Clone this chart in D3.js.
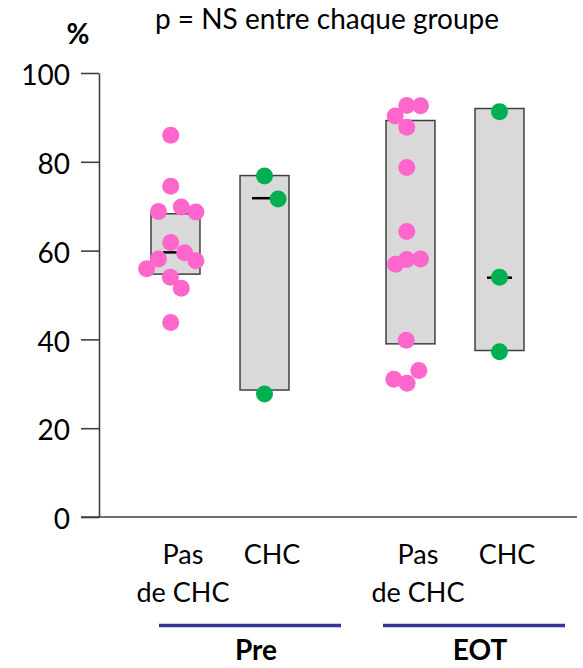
<!DOCTYPE html>
<head>
  <meta charset="utf-8">
  <style>
    body { margin: 0; background: #fff; }
    svg text { font-family: Lato, "Noto Sans", sans-serif; fill: #000; }
  </style>
</head>
<body>
<script src="https://cdnjs.cloudflare.com/ajax/libs/d3/7.8.5/d3.min.js"></script>
<script>

// time points and the two groups inside each
var periods = ["Pre", "EOT"];
var groups = ["Pas de CHC", "CHC"];

// box (first quartile / median / third quartile), period x group
var boxLow    = [[54.7, 28.6], [39.0, 37.5]];
var boxMedian = [[59.6, 71.8], [58.1, 53.9]];
var boxHigh   = [[68.3, 76.9], [89.3, 92.0]];

// individual patients, % value and horizontal spread (in dot widths)
var prePasValues = [86.0, 74.5, 68.8, 69.8, 68.7, 61.8, 58.1, 59.5, 57.7, 55.9, 54.0, 51.5, 43.8];
var prePasSpread = [-0.28, -0.28, -1.0, 0.34, 1.2, -0.28, -1.0, 0.54, 1.2, -1.7, -0.3, 0.34, -0.28];
var preChcValues = [76.8, 71.6, 27.7];
var preChcSpread = [0, 0.8, 0];
var eotPasValues = [92.7, 92.6, 90.3, 87.8, 78.7, 64.3, 58.1, 58.0, 56.9, 39.8, 33.0, 31.0, 30.1];
var eotPasSpread = [-0.22, 0.59, -0.9, -0.22, -0.22, -0.22, 0.59, -0.22, -0.88, -0.25, 0.49, -0.98, -0.2];
var eotChcValues = [91.3, 54.0, 37.2];
var eotChcSpread = [0, 0, 0];

var yTicks = [0, 20, 40, 60, 80, 100];

var width = 583, height = 668;
var dotR = 8.5;
var pink = "#ff66cc", green = "#00b050";

var points = [];
function addPoints(values, spread, p, g) {
  values.forEach(function(v, i) {
    points.push({ period: p, group: g, value: v, spread: spread[i] });
  });
}
addPoints(prePasValues, prePasSpread, "Pre", "Pas de CHC");
addPoints(preChcValues, preChcSpread, "Pre", "CHC");
addPoints(eotPasValues, eotPasSpread, "EOT", "Pas de CHC");
addPoints(eotChcValues, eotChcSpread, "EOT", "CHC");

var boxes = [];
periods.forEach(function(p, i) {
  groups.forEach(function(g, j) {
    boxes.push({ period: p, group: g, low: boxLow[i][j], median: boxMedian[i][j], high: boxHigh[i][j] });
  });
});

var svg = d3.select("body").append("svg")
    .attr("width", width)
    .attr("height", height);

var y = d3.scaleLinear()
          .domain([0, 100])
          .range([517, 73]);

var x0 = d3.scaleBand()
           .domain(periods)
           .range([102.5, 572.5]);

var x1 = d3.scalePoint()
           .domain(groups)
           .range([0, x0.bandwidth()])
           .padding(0.82);

var spreadX = d3.scaleLinear().domain([-1, 1]).range([-17, 17]);

function cx(d) { return x0(d.period) + x1(d.group); }

var boxW = x1.step() * 0.55;

// y axis
var yAxis = d3.axisLeft(y)
    .tickValues(yTicks)
    .tickSizeInner(18)
    .tickSizeOuter(0)
    .tickPadding(11);

var yAxisG = svg.append("g")
    .attr("transform", "translate(99,0)")
    .call(yAxis);

yAxisG.selectAll("path, line")
    .attr("stroke", "#404040")
    .attr("stroke-width", 1.6);

yAxisG.selectAll("text")
    .attr("font-size", 28)
    .attr("font-family", "Lato, sans-serif")
    .attr("fill", "#000")
    .attr("dy", "0.42em");

// baseline
svg.append("line")
    .attr("x1", 81)
    .attr("x2", 577)
    .attr("y1", y(0))
    .attr("y2", y(0))
    .attr("stroke", "#404040")
    .attr("stroke-width", 1.6);

// boxes
svg.selectAll(".box")
    .data(boxes)
    .enter()
    .append("rect")
    .attr("class", "box")
    .attr("x", function(d) { return cx(d) - boxW / 2; })
    .attr("width", boxW)
    .attr("y", function(d) { return y(d.high); })
    .attr("height", function(d) { return y(d.low) - y(d.high); })
    .attr("fill", "#d9d9d9")
    .attr("stroke", "#404040")
    .attr("stroke-width", 1.5);

svg.selectAll(".median")
    .data(boxes)
    .enter()
    .append("line")
    .attr("class", "median")
    .attr("x1", function(d) { return cx(d) - 12.5; })
    .attr("x2", function(d) { return cx(d) + 12.5; })
    .attr("y1", function(d) { return y(d.median); })
    .attr("y2", function(d) { return y(d.median); })
    .attr("stroke", "#000")
    .attr("stroke-width", 2.5);

// dots
svg.selectAll(".dot")
    .data(points)
    .enter()
    .append("circle")
    .attr("class", "dot")
    .attr("cx", function(d) { return cx(d) + spreadX(d.spread); })
    .attr("cy", function(d) { return y(d.value); })
    .attr("r", dotR)
    .attr("fill", function(d) { return d.group == "CHC" ? green : pink; });

// group labels
boxes.forEach(function(d) {
  var t = svg.append("text")
      .attr("x", cx(d) + 7.5)
      .attr("y", 564)
      .attr("text-anchor", "middle")
      .attr("font-size", 27);
  if (d.group == "CHC") {
    t.text("CHC");
  } else {
    t.append("tspan").attr("x", cx(d) + 7.5).text("Pas");
    t.append("tspan").attr("x", cx(d) + 7.5).attr("dy", 38).text("de CHC");
  }
});

// period underline + label
periods.forEach(function(p, i) {
  var mid = x0(p) + x0.bandwidth() / 2;
  var shift = i == 0 ? 30 : 19;
  svg.append("line")
      .attr("x1", mid + shift - 91)
      .attr("x2", mid + shift + 91)
      .attr("y1", 625.5)
      .attr("y2", 625.5)
      .attr("stroke", "#34349c")
      .attr("stroke-width", 3.5);
  svg.append("text")
      .attr("x", mid + shift + 6)
      .attr("y", 660)
      .attr("text-anchor", "middle")
      .attr("font-size", 28)
      .attr("font-weight", "bold")
      .text(p);
});

svg.append("text")
    .attr("x", 78)
    .attr("y", 44)
    .attr("text-anchor", "middle")
    .attr("font-size", 28)
    .attr("font-weight", "bold")
    .text("%");

svg.append("text")
    .attr("x", 327)
    .attr("y", 29)
    .attr("text-anchor", "middle")
    .attr("font-size", 28)
    .text("p = NS entre chaque groupe");

</script>
</body>
